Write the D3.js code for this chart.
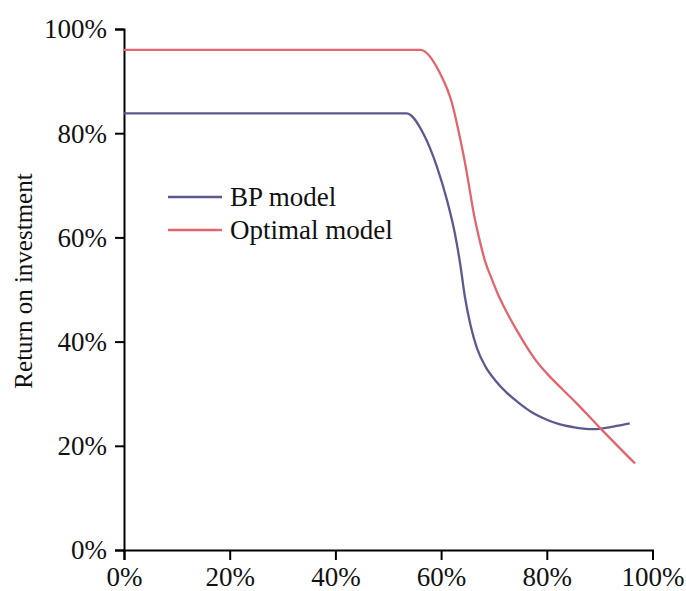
<!DOCTYPE html>
<html>
<head>
<meta charset="utf-8">
<script src="https://cdn.jsdelivr.net/npm/d3@7/dist/d3.min.js"></script>
<style>
html,body{margin:0;padding:0;background:#fff;}
svg{display:block;font-family:"Liberation Serif","Times New Roman",serif;}
</style>
</head>
<body>
<svg id="chart" width="686" height="591"></svg>
<script>
const xTicks = [0, 0.2, 0.4, 0.6, 0.8, 1.0];
const yTicks = [0, 0.2, 0.4, 0.6, 0.8, 1.0];
const seriesNames = ["BP model", "Optimal model"];
const seriesColors = ["#5b5a8e", "#e2656d"];

const bpX = [0, 0.535, 0.566, 0.592, 0.611, 0.626, 0.636, 0.645, 0.656, 0.668, 0.684, 0.703, 0.724, 0.745, 0.774, 0.80, 0.825, 0.855, 0.888, 0.926, 0.957];
const bpY = [0.838, 0.838, 0.800, 0.736, 0.672, 0.608, 0.550, 0.486, 0.430, 0.387, 0.352, 0.325, 0.302, 0.284, 0.263, 0.250, 0.241, 0.235, 0.232, 0.237, 0.243];

const optX = [0, 0.561, 0.598, 0.620, 0.636, 0.644, 0.651, 0.662, 0.674, 0.683, 0.696, 0.708, 0.725, 0.743, 0.762, 0.78, 0.80, 0.83, 0.856, 0.901, 0.967];
const optY = [0.96, 0.96, 0.915, 0.860, 0.790, 0.750, 0.710, 0.645, 0.590, 0.555, 0.520, 0.490, 0.455, 0.422, 0.390, 0.363, 0.339, 0.308, 0.282, 0.234, 0.166];

const margin = {top: 29, right: 33.5, bottom: 41, left: 124};
const W = 686, H = 591;
const svg = d3.select("#chart");

const x = d3.scaleLinear().domain([0, 1]).range([margin.left, W - margin.right]);
const y = d3.scaleLinear().domain([0, 1]).range([H - margin.bottom, margin.top]);
const fmt = d3.format(".0%");

const xAxis = svg.append("g")
  .attr("transform", `translate(0,${H - margin.bottom})`)
  .call(d3.axisBottom(x).tickValues(xTicks).tickFormat(fmt).tickSize(10).tickPadding(7));
const yAxis = svg.append("g")
  .attr("transform", `translate(${margin.left},0)`)
  .call(d3.axisLeft(y).tickValues(yTicks).tickFormat(fmt).tickSize(9).tickPadding(8));

[xAxis, yAxis].forEach(g => {
  g.selectAll("path.domain").attr("stroke", "#000").attr("stroke-width", 2);
  g.selectAll(".tick line").attr("stroke", "#000").attr("stroke-width", 2);
  g.selectAll(".tick text").attr("fill", "#111").style("font-size", "27px")
    .style("font-family", "'Liberation Serif','Times New Roman',serif");
});
yAxis.selectAll(".tick text").attr("dy", "0.33em");

svg.append("text")
  .attr("transform", `translate(32,281) rotate(-90)`)
  .attr("text-anchor", "middle")
  .style("font-size", "25px")
  .attr("fill", "#111")
  .text("Return on investment");

const line = d3.line().x(d => x(d[0])).y(d => y(d[1])).curve(d3.curveMonotoneX);
const seriesData = [d3.zip(bpX, bpY), d3.zip(optX, optY)];

seriesData.forEach((data, i) => {
  svg.append("path")
    .datum(data)
    .attr("fill", "none")
    .attr("stroke", seriesColors[i])
    .attr("stroke-width", 2.3)
    .attr("stroke-linejoin", "round")
    .attr("d", line);
});

const legend = svg.append("g");
seriesNames.forEach((name, i) => {
  const ly = 197 + i * 33;
  legend.append("line")
    .attr("x1", 168).attr("x2", 222).attr("y1", ly).attr("y2", ly)
    .attr("stroke", seriesColors[i]).attr("stroke-width", 2.3);
  legend.append("text")
    .attr("x", 230).attr("y", ly).attr("dy", "0.33em")
    .style("font-size", "27px").attr("fill", "#111")
    .text(name);
});
</script>
</body>
</html>
